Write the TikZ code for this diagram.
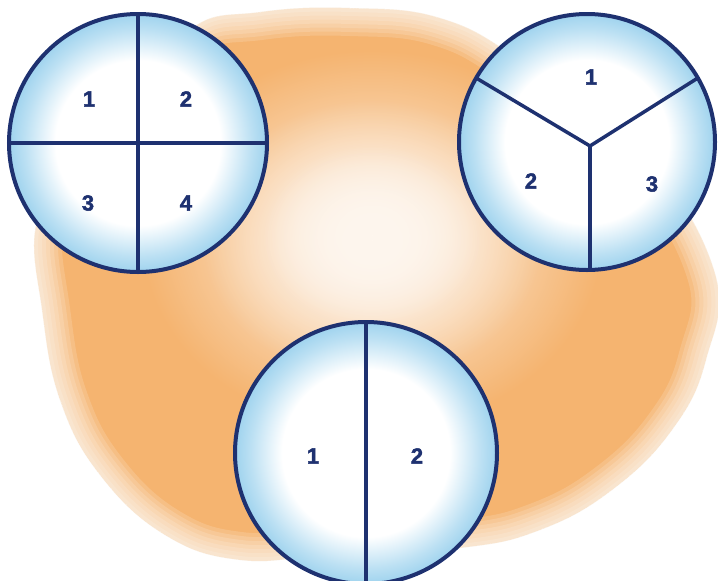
\documentclass[tikz,border=0pt]{standalone}
\usepackage{fontspec}
\setmainfont{Liberation Sans}
\newfontfamily\numfont[FakeBold=2]{Liberation Sans Bold}
\usetikzlibrary{fadings}
\definecolor{navy}{HTML}{1E3170}
\definecolor{cblue}{HTML}{9FD3EE}
\definecolor{orng}{HTML}{F5B470}
\definecolor{cream}{HTML}{FEF6EE}
\pgfdeclareradialshading{bub}{\pgfpoint{0bp}{0bp}}{color(0bp)=(white); color(16bp)=(white); color(22bp)=(cblue!70); color(25bp)=(cblue); color(50bp)=(cblue)}
\tikzfading[name=glowfade, inner color=transparent!0, outer color=transparent!100]
\tikzset{
  disc/.style={circle, draw=navy, line width=4pt, shade, shading=bub, minimum size=#1, inner sep=0pt, outer sep=0pt},
  divider/.style={draw=navy, line width=3.5pt},
  num/.style={text=navy, font=\fontsize{22}{22}\numfont, inner sep=0pt}
}
\begin{document}
\begin{tikzpicture}[x=1pt, y=-1pt]
\useasboundingbox (0,0) rectangle (718,581);
\clip (0,0) rectangle (718,581);
% orange background blob
\def\blob{plot[smooth cycle, tension=0.7] coordinates {(190,30) (260,12) (350,8) (440,18) (520,60) (640,150) (714,270) (706,360) (672,430) (612,490) (540,530) (460,548) (330,555) (240,560) (165,535) (100,475) (60,400) (42,310) (36,225) (70,170) (140,110)}}
\fill[orng] \blob;
\foreach \w in {56,48,...,0}{
  \draw[white, line width=\w pt, opacity=0.15, line join=round] \blob;
}
% central pale glow
\fill[cream, path fading=glowfade] (372,240) ellipse (230 and 190);
\fill[cream, path fading=glowfade] (372,240) ellipse (170 and 140);
\fill[cream, path fading=glowfade] (372,235) ellipse (110 and 90);
% circle with four parts
\node[disc=258pt] (A) at (138,143) {};
\draw[divider] (A.north) -- (A.south);
\draw[divider] (A.west) -- (A.east);
\node[num] (A1) at (89,99) {1};
\node[num] (A2) at (186,99) {2};
\node[num] (A3) at (88,203) {3};
\node[num] (A4) at (186,203) {4};
% circle with three parts
\node[disc=256pt] (B) at (587,142) {};
\coordinate (Bh) at (590,146);
\draw[divider, line join=round] (B.150) -- (Bh) -- (B.30);
\draw[divider] (Bh) -- (B.south -| Bh);
\node[num] (B1) at (591,77) {1};
\node[num] (B2) at (531,181) {2};
\node[num] (B3) at (652,184) {3};
% circle with two parts
\node[disc=262pt] (C) at (366,453) {};
\draw[divider] (C.north) -- (C.south);
\node[num] (C1) at (313,456) {1};
\node[num] (C2) at (417,456) {2};
\end{tikzpicture}
\end{document}
